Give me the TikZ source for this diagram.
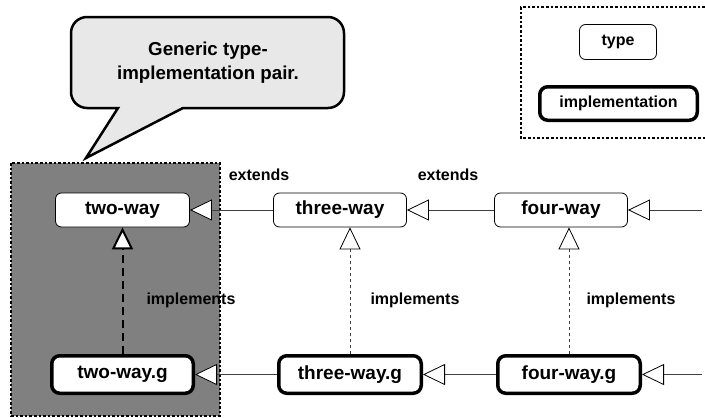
\documentclass[tikz,border=0pt]{standalone}
\usepackage{fontspec}
\setmainfont{Liberation Sans}
\usetikzlibrary{arrows.meta,positioning}

\tikzset{
  typebox/.style={draw, line width=0.8pt, fill=white, rounded corners=6pt,
    font=\fontsize{19}{22}\selectfont\bfseries, minimum height=34pt, inner sep=0pt},
  implbox/.style={draw, line width=3.5pt, fill=white, rounded corners=8pt,
    font=\fontsize{19}{22}\selectfont\bfseries, minimum height=37.5pt, inner sep=0pt},
  relabel/.style={font=\fontsize{16}{19}\selectfont\bfseries},
  opentip/.tip={Triangle[open, length=22pt 0 0, width=21pt 0 0, fill=white, color=black]},
  generalize/.style={draw=black!75, line width=0.8pt, -opentip},
  realize/.style={generalize, dash pattern=on 3pt off 3pt},
  realizebold/.style={generalize, draw=black, line width=2pt, dash pattern=on 8pt off 5pt},
  dottedframe/.style={line width=2.6pt, dash pattern=on 2.6pt off 2pt}
}

\begin{document}
\begin{tikzpicture}[x=1pt, y=-1pt]
    % --- 画布 ---
    \useasboundingbox (0,0) rectangle (705,418);
    \def\ytop{210}     % type 一行
    \def\ybot{374.5}   % implementation 一行

    % --- 灰色区域 (generic pair) ---
    \draw[dottedframe, fill=black!50] (11,163) rectangle (220,416);

    % --- 说明气泡 ---
    \draw[line width=2.5pt, fill=black!9, line join=miter]
        (118,108) -- (86,158) -- (183,108) -- (328,108)
        arc[start angle=90, end angle=0, radius=16] -- (344,33)
        arc[start angle=0, end angle=-90, radius=16] -- (87,17)
        arc[start angle=-90, end angle=-180, radius=16] -- (71,92)
        arc[start angle=180, end angle=90, radius=16] -- cycle;
    \node[font=\fontsize{18.7}{24}\selectfont\bfseries, align=center] (note) at (208,63)
        {Generic type-\\implementation pair.};

    % --- 图例 ---
    \draw[dottedframe] (705,7) -- (521,7) -- (521,138) -- (705,138);
    \node[typebox, font=\fontsize{16}{19}\selectfont\bfseries, minimum width=77pt,
        minimum height=35pt] (legtype) at (618,42) {type};
    \node[implbox, font=\fontsize{16}{19}\selectfont\bfseries, minimum width=157.5pt,
        minimum height=33.5pt] (legimpl) at (618.5,103.5) {implementation};

    % --- 类型 ---
    \node[typebox, minimum width=134pt] (two) at (122.5,\ytop) {two-way};
    \node[typebox, minimum width=133pt] (three) at (340,\ytop) {three-way};
    \node[typebox, minimum width=133pt] (four) at (561,\ytop) {four-way};

    % --- 实现 ---
    \node[implbox, minimum width=141.5pt] (twog) at (122.5,\ybot) {two-way.g};
    \node[implbox, minimum width=142.5pt] (threeg) at (350,\ybot) {three-way.g};
    \node[implbox, minimum width=142.5pt] (fourg) at (569,\ybot) {four-way.g};

    % 右侧延续的线
    \coordinate (topend) at (702,\ytop);
    \coordinate (botend) at (702,\ybot);

    % --- extends ---
    \draw[generalize] (three) -- (two);
    \draw[generalize] (four) -- (three);
    \draw[generalize] (topend) -- (four);
    \draw[generalize] (threeg) -- (twog);
    \draw[generalize] (fourg) -- (threeg);
    \draw[generalize] (botend) -- (fourg);

    % --- implements ---
    \draw[realizebold] (twog) -- (two);
    \draw[realize] (threeg.north) -- (threeg.north |- three.south);
    \draw[realize] (fourg.north) -- (fourg.north |- four.south);

    % --- 标签 ---
    \node[relabel] (ext1) at (259,175) {extends};
    \node[relabel] (ext2) at (448,175) {extends};
    \node[relabel] (imp1) at (191,300) {implements};
    \node[relabel] (imp2) at (415,300) {implements};
    \node[relabel] (imp3) at (631,300) {implements};

\end{tikzpicture}
\end{document}
